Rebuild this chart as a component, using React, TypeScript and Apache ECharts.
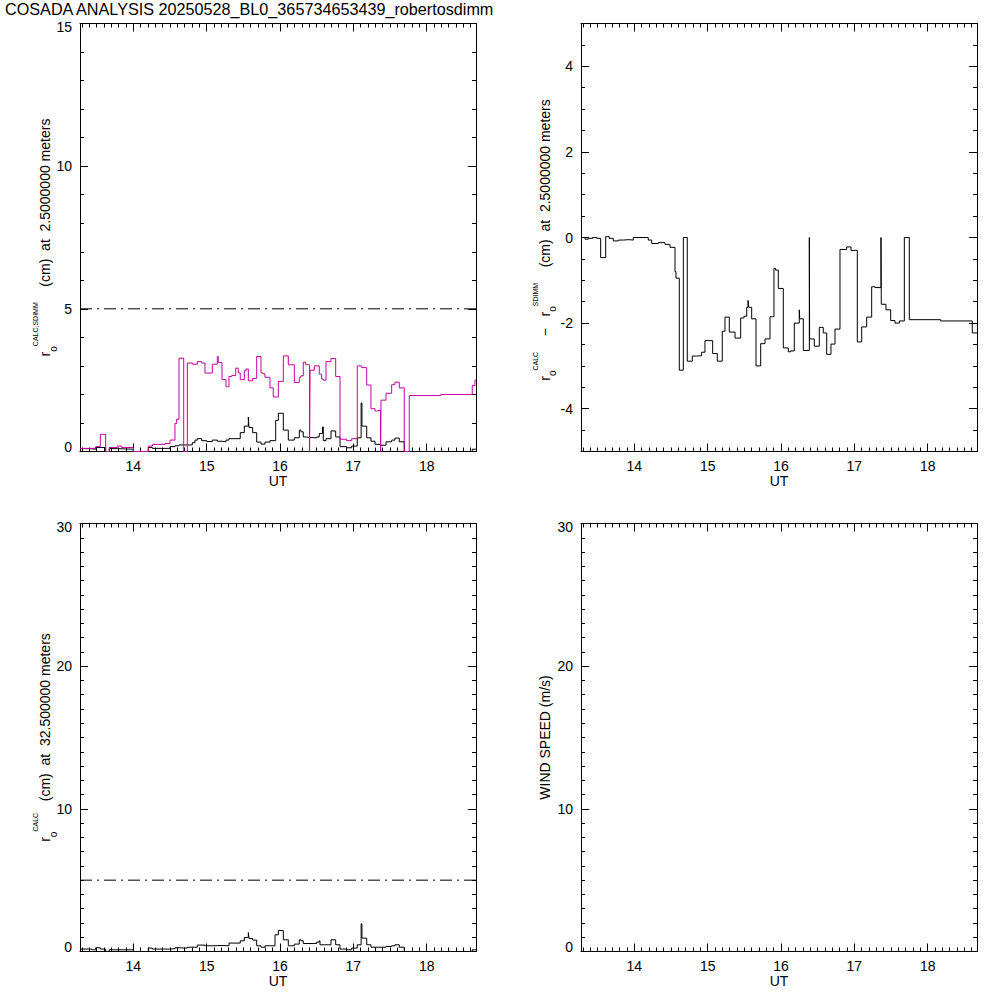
import React, { useEffect, useRef } from 'react';
import * as echarts from 'echarts';

const X_MIN = 13.273;
const X_MAX = 18.672;
const REF_LEVEL = 5;
const TITLE = 'COSADA ANALYSIS 20250528_BL0_365734653439_robertosdimm';

// r0 SDIMM (magenta), top-left
const sdimmTimes = [13.273, 13.487, 13.55, 13.623, 13.672, 13.782, 13.842, 14.0, 14.204, 14.259, 14.432, 14.5, 14.568, 14.591, 14.623, 14.687, 14.736, 14.804, 14.872, 14.932, 14.977, 15.077, 15.145, 15.158, 15.209, 15.263, 15.304, 15.341, 15.396, 15.431, 15.458, 15.513, 15.536, 15.568, 15.627, 15.682, 15.741, 15.772, 15.795, 15.863, 15.908, 15.977, 16.045, 16.113, 16.195, 16.263, 16.286, 16.317, 16.35, 16.403, 16.409, 16.467, 16.535, 16.568, 16.59, 16.627, 16.695, 16.759, 16.818, 16.909, 16.977, 17.053, 17.114, 17.182, 17.24, 17.295, 17.318, 17.371, 17.377, 17.445, 17.522, 17.567, 17.626, 17.694, 17.762, 18.191, 18.621, 18.658, 18.672];
const sdimmValues = [0.11, 0.17, 0.6, 0, 0.14, 0.19, 0.14, 0, 0.19, 0.25, 0.28, 0.4, 0.98, 1.13, 3.27, 0, 3.1, 3.06, 3.15, 3.1, 2.75, 3.06, 3.33, 3.12, 2.52, 2.27, 2.63, 2.66, 2.92, 2.75, 2.52, 2.83, 2.89, 2.48, 2.56, 3.33, 2.75, 2.72, 2.6, 2.23, 1.91, 2.46, 3.35, 3.04, 2.42, 2.6, 2.65, 3.13, 3.04, 0, 2.85, 3.0, 2.71, 2.54, 2.5, 3.15, 3.26, 2.63, 0.43, 0.38, 0.45, 3.0, 2.94, 2.33, 1.5, 1.42, 1.44, 0, 1.8, 2.04, 2.34, 2.43, 2.23, 0, 1.96, 2.0, 2.31, 2.5, 2.5];

// r0 CALC at 2.5 m (black), top-left
const calcTimes = [13.273, 13.409, 13.487, 13.623, 13.672, 13.782, 14.0, 14.204, 14.259, 14.5, 14.568, 14.623, 14.804, 14.841, 14.872, 14.932, 15.0, 15.077, 15.145, 15.209, 15.263, 15.304, 15.458, 15.513, 15.568, 15.577, 15.627, 15.682, 15.741, 15.795, 15.863, 15.941, 15.977, 16.045, 16.113, 16.195, 16.263, 16.286, 16.317, 16.35, 16.409, 16.5, 16.535, 16.579, 16.59, 16.627, 16.695, 16.759, 16.818, 16.909, 16.977, 17.053, 17.106, 17.117, 17.182, 17.24, 17.295, 17.377, 17.445, 17.522, 17.567, 17.626, 17.694, 18.621, 18.672];
const calcValues = [0.1, 0.08, 0.14, 0, 0.1, 0.08, 0, 0.14, 0.11, 0.17, 0.2, 0.23, 0.31, 0.4, 0.45, 0.38, 0.35, 0.4, 0.36, 0.34, 0.4, 0.45, 0.66, 0.89, 1.21, 0.84, 0.66, 0.33, 0.26, 0.33, 0.38, 1.09, 1.34, 0.75, 0.4, 0.48, 0.75, 0.69, 0.51, 0.49, 0.48, 0.51, 0.63, 0.86, 0.38, 0.45, 0.72, 0.51, 0.17, 0.13, 0.19, 0.48, 1.7, 0.89, 0.48, 0.36, 0.25, 0.22, 0.34, 0.4, 0.47, 0.34, 0, 0.08, 0.08];

// r0 CALC - r0 SDIMM (black), top-right
const diffTimes = [13.273, 13.328, 13.373, 13.432, 13.487, 13.541, 13.61, 13.659, 13.713, 13.782, 13.85, 13.918, 13.986, 14.19, 14.237, 14.327, 14.418, 14.486, 14.555, 14.568, 14.613, 14.668, 14.722, 14.79, 14.85, 14.918, 14.963, 15.068, 15.131, 15.199, 15.236, 15.295, 15.373, 15.45, 15.495, 15.532, 15.55, 15.558, 15.6, 15.659, 15.723, 15.782, 15.85, 15.904, 15.925, 15.963, 16.031, 16.099, 16.132, 16.181, 16.249, 16.255, 16.304, 16.386, 16.39, 16.454, 16.522, 16.576, 16.623, 16.681, 16.736, 16.804, 16.895, 16.954, 17.04, 17.1, 17.168, 17.236, 17.281, 17.363, 17.367, 17.431, 17.495, 17.554, 17.613, 17.681, 17.749, 18.177, 18.608, 18.672];
const diffValues = [0, -0.04, -0.02, 0, -0.02, -0.47, 0.02, -0.02, -0.08, -0.06, -0.05, -0.06, 0, -0.06, -0.14, -0.12, -0.16, -0.23, -0.8, -0.95, -3.1, 0, -2.89, -2.77, -2.76, -2.68, -2.41, -2.71, -2.89, -2.19, -1.86, -2.21, -2.35, -1.88, -1.84, -1.63, -1.47, -1.63, -1.9, -3.0, -2.48, -2.37, -1.85, -0.72, -0.76, -1.19, -2.58, -2.67, -2.65, -2.0, -1.69, -1.9, -2.64, 0, -2.37, -2.54, -2.1, -2.23, -2.73, -2.49, -2.14, -0.28, -0.22, -0.3, -2.44, -2.09, -1.86, -1.15, -1.17, 0, -1.56, -1.69, -1.94, -2.0, -1.95, 0, -1.92, -1.95, -2.23, -2.23];

// r0 CALC at 32.5 m (black), bottom-left
const calc32Times = [13.273, 13.432, 13.487, 13.55, 13.623, 13.672, 14.0, 14.204, 14.259, 14.5, 14.568, 14.623, 14.736, 14.872, 14.977, 15.077, 15.209, 15.304, 15.458, 15.513, 15.568, 15.577, 15.627, 15.682, 15.741, 15.795, 15.932, 15.977, 16.045, 16.113, 16.195, 16.263, 16.286, 16.317, 16.5, 16.535, 16.545, 16.695, 16.759, 16.818, 16.909, 16.977, 17.053, 17.106, 17.117, 17.182, 17.24, 17.445, 17.522, 17.567, 17.626, 17.694, 18.621, 18.672];
const calc32Values = [0.17, 0.12, 0.26, 0.17, 0, 0.12, 0, 0.24, 0.17, 0.2, 0.26, 0.24, 0.3, 0.45, 0.4, 0.42, 0.4, 0.59, 0.75, 0.98, 1.33, 0.91, 0.8, 0.4, 0.3, 0.4, 1.17, 1.47, 0.82, 0.4, 0.52, 0.82, 0.75, 0.56, 0.66, 0.75, 0.47, 0.82, 0.47, 0.17, 0.12, 0.24, 0.47, 1.94, 0.94, 0.47, 0.3, 0.35, 0.4, 0.47, 0.3, 0, 0.12, 0.12];

const FONT = 'Liberation Sans';
const MAGENTA = '#c800a0';

const pairs = (t: number[], v: number[]) => t.map((x, i) => [x, v[i]]);

const panels = [
  { left: 80, top: 23.5, yMin: 0, yMax: 15, interval: 5 as number | undefined, minorStep: 1, endLabels: true },
  { left: 581, top: 23.5, yMin: -5, yMax: 5, interval: undefined, minorStep: 0.5, endLabels: false },
  { left: 80, top: 523.5, yMin: 0, yMax: 30, interval: 10, minorStep: 1, endLabels: true },
  { left: 581, top: 523.5, yMin: 0, yMax: 30, interval: 10, minorStep: 1, endLabels: true },
];
const PW = 396;
const PH = 428;

export default function App() {
  const ref = useRef<HTMLDivElement>(null);
  useEffect(() => {
    if (!ref.current) return;
    const chart = echarts.init(ref.current, undefined, { renderer: 'svg' });
    const black = { color: '#000', width: 1 };
    const grid: any[] = [];
    const xAxis: any[] = [];
    const yAxis: any[] = [];
    const xIdx: number[] = [];
    const yIdx: number[] = [];
    const labelFont = { fontFamily: FONT, fontSize: 14, color: '#000' };
    panels.forEach((p, i) => {
      grid.push({ left: p.left, top: p.top, width: PW, height: PH });
      const xBase = {
        type: 'value', gridIndex: i, min: X_MIN, max: X_MAX, splitNumber: 5,
        axisLine: { show: true, onZero: false, lineStyle: black },
        axisTick: { show: true, inside: true, length: 8, lineStyle: black },
        minorTick: { show: true, splitNumber: 10, length: 4, lineStyle: black },
        splitLine: { show: false }, minorSplitLine: { show: false },
      };
      xIdx.push(xAxis.length);
      xAxis.push({
        ...xBase, position: 'bottom',
        axisLabel: {
          show: true, margin: 7, ...labelFont,
          showMinLabel: false, showMaxLabel: false,
          formatter: (v: number) => (Math.abs(v - Math.round(v)) < 1e-6 ? String(Math.round(v)) : ''),
        },
        name: 'UT', nameLocation: 'middle', nameGap: 22,
        nameTextStyle: { ...labelFont },
      });
      xAxis.push({ ...xBase, position: 'top', axisLabel: { show: false } });

      const yBase: any = {
        type: 'value', gridIndex: i, min: p.yMin, max: p.yMax,
        axisLine: { show: true, onZero: false, lineStyle: black },
        axisTick: { show: true, inside: true, length: 8, lineStyle: black },
        splitLine: { show: false },
      };
      if (p.interval !== undefined) yBase.interval = p.interval; else yBase.splitNumber = 5;
      yIdx.push(yAxis.length);
      yAxis.push({
        ...yBase, position: 'left',
        axisLabel: {
          show: true, margin: 8, ...labelFont,
          rich: {
            lo: { ...labelFont, padding: [0, 0, 9, 0] },
            hi: { ...labelFont, padding: [7, 0, 0, 0] },
          },
          formatter: (v: number) => {
            if (!p.endLabels) return (v === p.yMin || v === p.yMax) ? '' : String(v);
            if (v === p.yMin) return `{lo|${v}}`;
            if (v === p.yMax) return `{hi|${v}}`;
            return String(v);
          },
        },
      });
      yAxis.push({ ...yBase, position: 'right', axisLabel: { show: false } });
      // minor tick axes (left and right)
      const yMinor = {
        type: 'value', gridIndex: i, min: p.yMin, max: p.yMax, interval: p.minorStep,
        axisLine: { show: false },
        axisTick: { show: true, inside: true, length: 4, lineStyle: black },
        axisLabel: { show: false }, splitLine: { show: false },
      };
      yAxis.push({ ...yMinor, position: 'left' });
      yAxis.push({ ...yMinor, position: 'right' });
    });

    const lineSeries = (data: number[][], p: number, color: string, type: any = 'solid', step: any = 'end') => ({
      type: 'line', xAxisIndex: xIdx[p], yAxisIndex: yIdx[p], data, step, symbol: 'none', silent: true, clip: true,
      lineStyle: { color, width: 1, type }, emphasis: { disabled: true },
    });

    const series = [
      lineSeries(pairs(calcTimes, calcValues), 0, '#000'),
      lineSeries(pairs(sdimmTimes, sdimmValues), 0, MAGENTA),
      lineSeries([[X_MIN, REF_LEVEL], [X_MAX, REF_LEVEL]], 0, '#000', [12, 5, 2, 5], false),
      lineSeries(pairs(diffTimes, diffValues), 1, '#000'),
      lineSeries(pairs(calc32Times, calc32Values), 2, '#000'),
      lineSeries([[X_MIN, REF_LEVEL], [X_MAX, REF_LEVEL]], 2, '#000', [12, 5, 2, 5], false),
    ];

    const rich = {
      m: { fontFamily: FONT, fontSize: 14, lineHeight: 26, fill: '#000' },
      sub: { fontFamily: FONT, fontSize: 10, lineHeight: 17, verticalAlign: 'bottom', fill: '#000' },
      sup: { fontFamily: FONT, fontSize: 7, lineHeight: 7, verticalAlign: 'top', fill: '#000' },
    };
    const yTitle = (x: number, y: number, text: string) => ({
      type: 'text', x, y, rotation: Math.PI / 2, silent: true,
      style: { text, rich, align: 'center', verticalAlign: 'middle', fontFamily: FONT, fontSize: 14, fill: '#000' },
    });

    chart.setOption({
      animation: false,
      backgroundColor: '#fff',
      grid, xAxis, yAxis, series,
      graphic: [
        { type: 'text', left: 5, top: 1, silent: true, style: { text: TITLE, fontFamily: FONT, fontSize: 16.2, fill: '#000' } },
        yTitle(45, 237.5, '{m|r}{sub|o}{sup|CALC,SDIMM}{m|    (cm)  at  2.5000000 meters}'),
        yTitle(544.5, 240, '{m|r}{sub|o}{sup|CALC}{m|    \u2212   r}{sub|o}{sup|SDIMM}{m|    (cm)  at  2.5000000 meters}'),
        yTitle(45, 737.5, '{m|r}{sub|o}{sup|CALC}{m|   (cm)  at  32.500000 meters}'),
        yTitle(544.5, 737.5, '{m|WIND SPEED (m/s)}'),
      ],
    });
    return () => chart.dispose();
  }, []);
  return <div ref={ref} style={{ position: 'absolute', left: 0, top: 0, width: 1000, height: 1000 }} />;
}
